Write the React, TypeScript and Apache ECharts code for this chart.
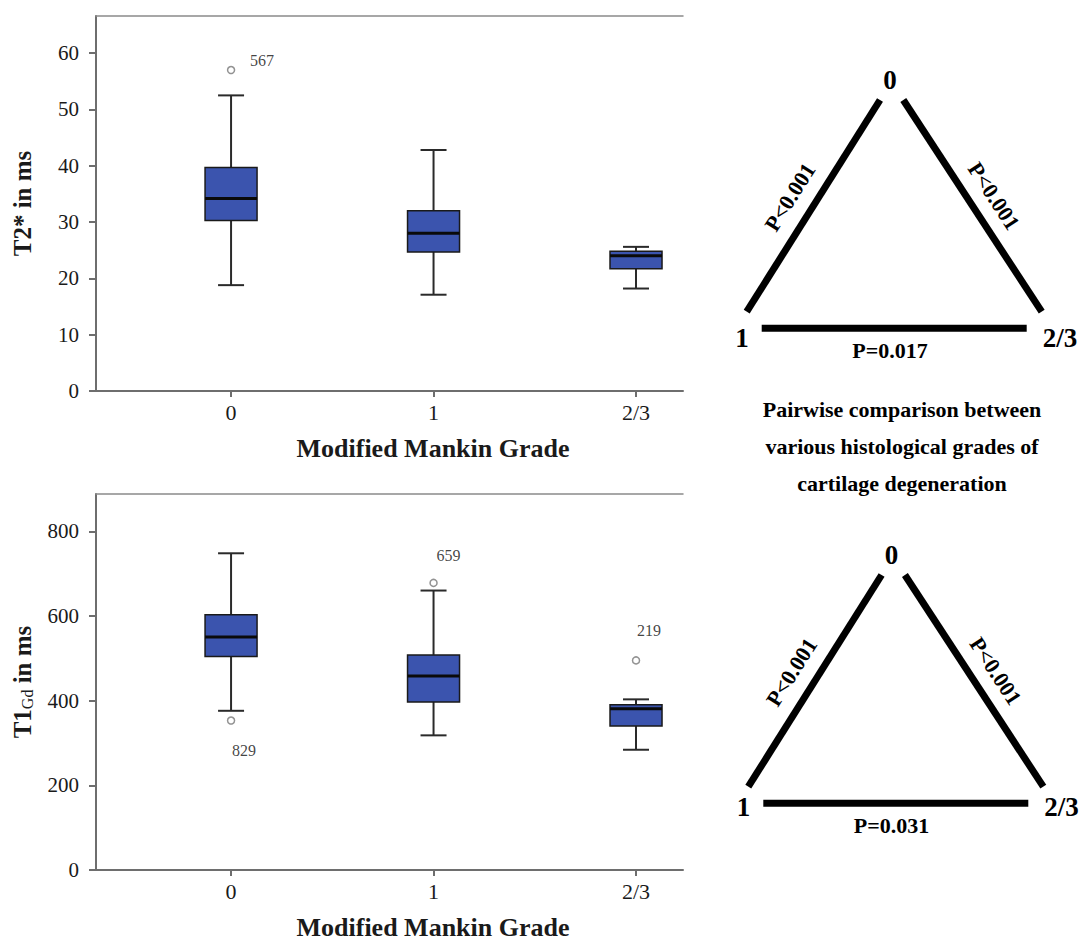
import React, { useEffect, useRef } from "react";
import * as echarts from "echarts";

// ---------- data ----------
const gradeLabels = ["0", "1", "2/3"];
const gradePositions = [0, 1, 2];

// T2* (ms) box plots per Modified Mankin grade
const t2Min = [18.8, 17.1, 18.2];
const t2Q1 = [30.3, 24.7, 21.7];
const t2Median = [34.2, 28.0, 24.0];
const t2Q3 = [39.7, 32.0, 24.8];
const t2Max = [52.5, 42.8, 25.6];
const t2OutlierGrade = [0];
const t2OutlierValue = [57];
const t2OutlierId = ["567"];
const t2Ticks = [0, 10, 20, 30, 40, 50, 60];

// T1Gd (ms) box plots per Modified Mankin grade
const t1Min = [376, 318, 284];
const t1Q1 = [504, 397, 340];
const t1Median = [550, 458, 381];
const t1Q3 = [603, 508, 390];
const t1Max = [748, 660, 403];
const t1OutlierGrade = [0, 1, 2];
const t1OutlierValue = [353, 678, 495];
const t1OutlierId = ["829", "659", "219"];
const t1Ticks = [0, 200, 400, 600, 800];

// pairwise comparisons: [0 vs 1, 0 vs 2/3, 1 vs 2/3]
const pairT2 = ["P<0.001", "P<0.001", "P=0.017"];
const pairT1 = ["P<0.001", "P<0.001", "P=0.031"];
const captionLines = [
  "Pairwise comparison between",
  "various histological grades of",
  "cartilage degeneration",
];

// ---------- styles ----------
const FONT = "'Times New Roman', 'Liberation Serif', serif";
const AXIS_GRAY = "#6e6e6e";
const TEXT = "#1a1a1a";
const BOX_FILL = "#3b54ae";
const t2LabelOffsets = [[31, -10]];
const t1LabelOffsets = [[13, 30], [15, -27], [13, -30]];

function boxSeries(axisIdx: number, mins: number[], q1s: number[], meds: number[], q3s: number[], maxs: number[]) {
  return {
    type: "custom",
    xAxisIndex: axisIdx,
    yAxisIndex: axisIdx,
    data: gradePositions.map((g, i) => [g, mins[i], q1s[i], meds[i], q3s[i], maxs[i]]),
    encode: { x: 0, y: [1, 2, 3, 4, 5] },
    z: 3,
    renderItem: (params: any, api: any) => {
      const x = api.value(0);
      const lo = api.coord([x, api.value(1)]);
      const q1 = api.coord([x, api.value(2)]);
      const med = api.coord([x, api.value(3)]);
      const q3 = api.coord([x, api.value(4)]);
      const hi = api.coord([x, api.value(5)]);
      const cx = lo[0];
      const bw = 52;
      const cw = 26;
      const ws = { stroke: "#2a2a2a", lineWidth: 2 };
      return {
        type: "group",
        children: [
          { type: "line", shape: { x1: cx, y1: hi[1], x2: cx, y2: q3[1] }, style: ws },
          { type: "line", shape: { x1: cx, y1: q1[1], x2: cx, y2: lo[1] }, style: ws },
          { type: "line", shape: { x1: cx - cw / 2, y1: hi[1], x2: cx + cw / 2, y2: hi[1] }, style: ws },
          { type: "line", shape: { x1: cx - cw / 2, y1: lo[1], x2: cx + cw / 2, y2: lo[1] }, style: ws },
          {
            type: "rect",
            shape: { x: cx - bw / 2, y: q3[1], width: bw, height: q1[1] - q3[1] },
            style: { fill: BOX_FILL, stroke: "#1a1a1a", lineWidth: 1.5 },
          },
          {
            type: "line",
            shape: { x1: cx - bw / 2, y1: med[1], x2: cx + bw / 2, y2: med[1] },
            style: { stroke: "#0a0a0a", lineWidth: 3 },
          },
        ],
      };
    },
  };
}

function outlierSeries(axisIdx: number, grades: number[], values: number[], ids: string[], offsets: number[][]) {
  return {
    type: "scatter",
    xAxisIndex: axisIdx,
    yAxisIndex: axisIdx,
    symbol: "circle",
    symbolSize: 7,
    z: 4,
    itemStyle: { color: "#ffffff", borderColor: "#777777", borderWidth: 1.5 },
    label: {
      show: true,
      position: "inside",
      formatter: "{b}",
      fontFamily: FONT,
      fontSize: 16,
      color: "#111111",
      align: "center",
      verticalAlign: "middle",
    },
    data: grades.map((g, i) => ({
      name: ids[i],
      value: [g, values[i]],
      label: { offset: offsets[i], color: "#111111" },
    })),
  };
}

function bottomXAxis(gridIndex: number) {
  return {
    type: "value",
    gridIndex,
    position: "bottom",
    min: -0.667,
    max: 2.232,
    name: "Modified Mankin Grade",
    nameLocation: "middle",
    nameGap: 44,
    nameTextStyle: {
      fontFamily: FONT,
      fontSize: 26,
      fontWeight: "bold",
      color: TEXT,
      padding: [0, 0, 0, 87],
    },
    axisLine: { show: true, onZero: false, lineStyle: { color: AXIS_GRAY, width: 2 } },
    axisTick: { show: true, length: 6, customValues: gradePositions, lineStyle: { color: AXIS_GRAY, width: 2 } },
    axisLabel: {
      customValues: gradePositions,
      formatter: (v: number) => gradeLabels[Math.round(v)],
      fontFamily: FONT,
      fontSize: 22,
      color: TEXT,
      margin: 10,
    },
    splitLine: { show: false },
  };
}

function topXAxis(gridIndex: number) {
  return {
    type: "value",
    gridIndex,
    position: "top",
    min: -0.667,
    max: 2.232,
    axisLine: { show: true, onZero: false, lineStyle: { color: "#8a8a8a", width: 1.5 } },
    axisTick: { show: false },
    axisLabel: { show: false },
    splitLine: { show: false },
  };
}

function yAxis(gridIndex: number, max: number, ticks: number[], name: string, rich?: any) {
  return {
    type: "value",
    gridIndex,
    min: 0,
    max,
    name,
    nameLocation: "middle",
    nameGap: 61,
    nameRotate: 90,
    nameTextStyle: {
      fontFamily: FONT,
      fontSize: 25,
      fontWeight: "bold",
      color: TEXT,
      rich,
    },
    axisLine: { show: true, onZero: false, lineStyle: { color: AXIS_GRAY, width: 2 } },
    axisTick: { show: true, length: 7, customValues: ticks, lineStyle: { color: AXIS_GRAY, width: 2 } },
    axisLabel: { customValues: ticks, fontFamily: FONT, fontSize: 21, color: TEXT, margin: 17 },
    splitLine: { show: false },
  };
}

function textEl(text: string, x: number, y: number, size: number, rotation = 0) {
  return {
    type: "text",
    x,
    y,
    rotation,
    style: {
      text,
      fill: "#000",
      fontFamily: FONT,
      fontSize: size,
      fontWeight: "bold",
      align: "center",
      verticalAlign: "middle",
      textAlign: "center",
      textVerticalAlign: "middle",
    },
  };
}

function triangle(dx: number, dy: number, labels: string[], cornerDy: number) {
  const lw = { stroke: "#000", lineWidth: 7 };
  return [
    { type: "line", shape: { x1: 746.7 + dx, y1: 311.7 + dy, x2: 880 + dx, y2: 100 + dy }, style: lw },
    { type: "line", shape: { x1: 903.3 + dx, y1: 100 + dy, x2: 1041.7 + dx, y2: 311.7 + dy }, style: lw },
    { type: "line", shape: { x1: 761.7 + dx, y1: 328.3 + dy, x2: 1026.7 + dx, y2: 328.3 + dy }, style: lw },
    textEl(gradeLabels[0], 890 + dx, 80 + dy, 27),
    textEl(gradeLabels[1], 742 + dx, 338 + dy + cornerDy, 27),
    textEl(gradeLabels[2], 1060 + dx, 338 + dy + cornerDy, 27),
    textEl(labels[0], 790 + dx, 197 + dy, 22, 1.009),
    textEl(labels[1], 994 + dx, 196 + dy, 22, -0.991),
    textEl(labels[2], 890 + dx, 350 + dy, 22),
  ];
}

export default function App() {
  const ref = useRef<HTMLDivElement>(null);

  useEffect(() => {
    if (!ref.current) return;
    const chart = echarts.init(ref.current, null, { renderer: "svg" });
    const option: any = {
      animation: false,
      backgroundColor: "#ffffff",
      grid: [
        { left: 96, top: 16, width: 587, height: 375 },
        { left: 96, top: 494, width: 587, height: 380 },
      ],
      xAxis: [bottomXAxis(0), bottomXAxis(1), topXAxis(0), topXAxis(1)],
      yAxis: [
        yAxis(0, 66.6, t2Ticks, "T2* in ms"),
        yAxis(1, 888, t1Ticks, "{a|T1}{b|Gd}{a| in ms}", {
          a: { fontFamily: FONT, fontSize: 25, fontWeight: "bold", color: TEXT, verticalAlign: "bottom" },
          b: { fontFamily: FONT, fontSize: 16, fontWeight: "normal", color: TEXT, verticalAlign: "bottom" },
        }),
      ],
      series: [
        boxSeries(0, t2Min, t2Q1, t2Median, t2Q3, t2Max),
        outlierSeries(0, t2OutlierGrade, t2OutlierValue, t2OutlierId, t2LabelOffsets),
        boxSeries(1, t1Min, t1Q1, t1Median, t1Q3, t1Max),
        outlierSeries(1, t1OutlierGrade, t1OutlierValue, t1OutlierId, t1LabelOffsets),
      ],
      graphic: [
        ...triangle(0, 0, pairT2, 0),
        ...triangle(1.6, 475, pairT1, -6),
        ...captionLines.map((line, i) => textEl(line, 902, 409 + i * 37, 22)),
      ],
    };
    chart.setOption(option);
    return () => chart.dispose();
  }, []);

  return (
    <div
      ref={ref}
      style={{ position: "fixed", left: 0, top: 0, width: 1083, height: 941, background: "#fff" }}
    />
  );
}
